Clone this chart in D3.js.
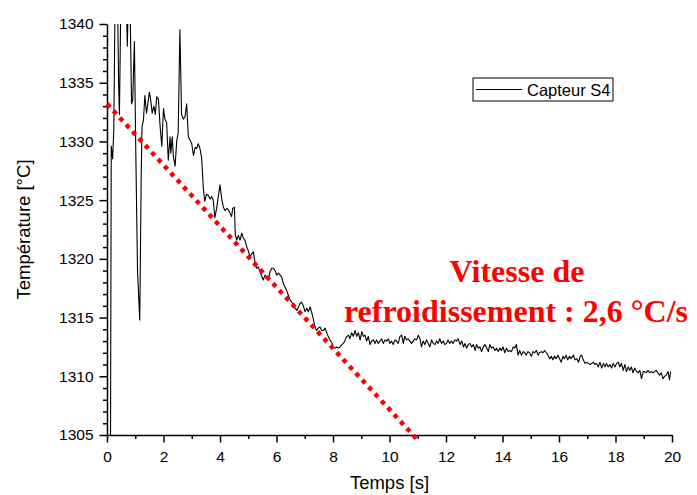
<!doctype html>
<html lang="fr">
<head>
<meta charset="utf-8">
<title>Capteur S4</title>
<script src="https://cdn.jsdelivr.net/npm/d3@7"></script>
<style>
	body { margin: 0; background: #fff; }
	svg { display: block; }
	.axis text { font-family: "Liberation Sans", Arial, sans-serif; font-size: 15.5px; fill: #000; }
	.axis path, .axis line { stroke: #000; stroke-width: 1.5px; }
</style>
</head>
<body>
<div id="chart"></div>
<script>
// temps [s]
var temps = [
	0.12, 0.15, 0.20, 0.24, 0.29, 0.36, 0.41, 0.44, 0.49, 0.56, 0.66, 0.72, 0.76, 0.82, 0.87, 0.91, 0.97,
	1.02, 1.08, 1.16, 1.21, 1.24, 1.29, 1.34, 1.40, 1.50, 1.55, 1.60, 1.66, 1.71, 1.76, 1.82, 1.88, 1.94,
	2.00, 2.05, 2.11, 2.17, 2.23, 2.26, 2.31, 2.35, 2.41, 2.47, 2.52, 2.58, 2.64, 2.70, 2.76, 2.82, 2.88, 2.94,
	3.00, 3.06, 3.12, 3.17, 3.23, 3.29, 3.35, 3.41, 3.46, 3.52, 3.59, 3.65, 3.71, 3.76, 3.82, 3.88, 3.94,
	4.00, 4.06, 4.12, 4.18, 4.24, 4.29, 4.35, 4.41, 4.45, 4.51, 4.54, 4.59, 4.65, 4.71, 4.77, 4.82, 4.88, 4.95,
	5.00, 5.06, 5.12, 5.18, 5.24, 5.30, 5.36, 5.42, 5.48, 5.53, 5.59, 5.65, 5.71, 5.77, 5.83, 5.89, 5.95,
	6.01, 6.07, 6.13, 6.18, 6.24, 6.30, 6.36, 6.42, 6.48, 6.54, 6.59, 6.66, 6.72, 6.78, 6.83, 6.89, 6.95,
	7.01, 7.07, 7.13, 7.19, 7.25, 7.30, 7.36, 7.42, 7.48, 7.54, 7.60, 7.66, 7.72, 7.78, 7.83, 7.89, 7.95,
	8.01, 8.07, 8.13, 8.19, 8.25, 8.31, 8.37, 8.43, 8.49, 8.55, 8.60, 8.66, 8.72, 8.78, 8.84, 8.90, 8.96,
	9.02, 9.07, 9.13, 9.19, 9.25, 9.31, 9.37, 9.43, 9.49, 9.54, 9.60, 9.66, 9.72, 9.78, 9.84, 9.90, 9.96,
	10.01, 10.07, 10.13, 10.19, 10.25, 10.31, 10.37, 10.43, 10.49, 10.54, 10.60, 10.66, 10.72, 10.78, 10.84, 10.90, 10.96,
	11.02, 11.08, 11.13, 11.19, 11.25, 11.31, 11.37, 11.43, 11.49, 11.55, 11.61, 11.66, 11.72, 11.78, 11.84, 11.90, 11.96,
	12.02, 12.07, 12.13, 12.19, 12.25, 12.31, 12.37, 12.43, 12.50, 12.56, 12.62, 12.67, 12.73, 12.79, 12.85, 12.91, 12.97,
	13.03, 13.08, 13.14, 13.20, 13.26, 13.32, 13.38, 13.44, 13.50, 13.55, 13.61, 13.67, 13.73, 13.79, 13.85, 13.91, 13.96,
	14.02, 14.08, 14.14, 14.20, 14.26, 14.32, 14.38, 14.43, 14.49, 14.55, 14.61, 14.67, 14.73, 14.79, 14.84, 14.90, 14.96,
	15.02, 15.08, 15.14, 15.20, 15.26, 15.31, 15.37, 15.43, 15.49, 15.55, 15.61, 15.67, 15.73, 15.78, 15.84, 15.90, 15.96,
	16.02, 16.08, 16.14, 16.19, 16.25, 16.31, 16.37, 16.43, 16.51, 16.57, 16.63, 16.69, 16.75, 16.80, 16.86, 16.92, 16.98,
	17.04, 17.10, 17.16, 17.22, 17.27, 17.33, 17.39, 17.45, 17.51, 17.57, 17.63, 17.68, 17.74, 17.80, 17.86, 17.92, 17.98,
	18.04, 18.10, 18.15, 18.21, 18.27, 18.33, 18.39, 18.45, 18.51, 18.56, 18.62, 18.68, 18.74, 18.80, 18.86, 18.92, 18.98,
	19.03, 19.09, 19.15, 19.21, 19.27, 19.33, 19.39, 19.44, 19.50, 19.56, 19.62, 19.68, 19.74, 19.80, 19.86, 19.91, 19.95
];

// Capteur S4, température [°C]
var capteurS4 = [
	1300.0, 1329.6, 1328.5, 1331.0, 1343.0, 1345.0, 1335.0, 1332.3, 1342.0, 1346.0, 1344.0, 1338.1, 1343.0, 1341.0, 1333.2, 1333.5, 1338.5,
	1329.0, 1319.0, 1314.8, 1327.0, 1331.3, 1331.8, 1333.9, 1332.4, 1334.2, 1333.5, 1332.4, 1333.0, 1332.3, 1333.8, 1333.6, 1331.3, 1329.6,
	1332.8, 1331.9, 1331.6, 1328.4, 1330.4, 1329.0, 1330.4, 1328.7, 1327.9, 1330.1, 1330.7, 1339.5, 1332.3, 1331.9, 1332.1, 1333.2, 1330.4, 1330.1,
	1329.8, 1328.8, 1329.5, 1329.4, 1329.8, 1329.4, 1328.6, 1326.0, 1324.9, 1325.5, 1325.4, 1325.1, 1325.3, 1325.0, 1323.5, 1324.3, 1325.3,
	1326.3, 1325.1, 1324.4, 1324.1, 1324.3, 1324.2, 1323.9, 1323.6, 1324.3, 1324.4, 1322.1, 1321.6, 1322.0, 1321.6, 1322.2, 1321.8, 1321.6, 1321.0,
	1320.7, 1320.2, 1320.4, 1320.6, 1319.7, 1319.2, 1319.3, 1318.9, 1318.5, 1318.2, 1318.6, 1318.5, 1318.2, 1318.9, 1319.2, 1319.2, 1319.0,
	1318.6, 1318.8, 1318.6, 1318.5, 1317.9, 1317.6, 1317.3, 1316.9, 1316.5, 1316.3, 1316.1, 1315.8, 1315.6, 1315.9, 1316.2, 1316.3, 1316.0,
	1315.5, 1315.8, 1315.5, 1315.9, 1315.4, 1314.9, 1314.2, 1313.9, 1314.1, 1314.2, 1313.9, 1313.9, 1314.1, 1313.7, 1313.4, 1313.1, 1312.9,
	1312.5, 1312.4, 1312.5, 1312.4, 1312.5, 1312.7, 1312.8, 1313.1, 1313.4, 1313.5, 1313.2, 1313.7, 1313.4, 1313.9, 1313.4, 1313.7, 1313.1,
	1313.8, 1313.4, 1313.5, 1313.0, 1313.4, 1312.7, 1313.0, 1313.1, 1312.8, 1313.1, 1312.8, 1313.0, 1313.2, 1312.8, 1313.1, 1313.0, 1313.2,
	1312.8, 1313.0, 1312.7, 1313.1, 1313.0, 1312.8, 1313.4, 1313.5, 1312.8, 1313.4, 1313.1, 1313.2, 1313.0, 1312.8, 1313.0, 1313.2, 1313.1,
	1313.5, 1313.2, 1312.5, 1313.0, 1312.7, 1313.1, 1312.8, 1312.5, 1313.1, 1312.8, 1312.7, 1313.0, 1312.8, 1313.2, 1312.8, 1313.0, 1312.7,
	1312.8, 1313.1, 1312.8, 1313.0, 1312.8, 1313.1, 1313.0, 1313.2, 1312.7, 1313.0, 1312.5, 1312.8, 1312.4, 1312.7, 1312.8, 1312.5, 1312.7,
	1312.2, 1312.7, 1312.4, 1312.5, 1312.1, 1312.5, 1312.7, 1312.4, 1312.1, 1312.7, 1312.4, 1312.5, 1312.2, 1312.4, 1312.1, 1312.4, 1312.2,
	1312.5, 1312.0, 1312.4, 1312.1, 1312.2, 1312.1, 1312.5, 1312.4, 1312.7, 1311.8, 1312.2, 1311.8, 1312.1, 1312.0, 1311.8, 1312.1, 1312.0,
	1311.7, 1312.1, 1312.0, 1312.2, 1311.8, 1312.0, 1312.1, 1312.0, 1312.2, 1312.0, 1311.8, 1311.5, 1311.7, 1311.4, 1311.7, 1311.5, 1311.8,
	1311.5, 1311.2, 1311.7, 1311.5, 1311.8, 1311.4, 1311.7, 1311.5, 1311.8, 1311.4, 1311.5, 1311.2, 1311.7, 1311.8, 1311.4, 1311.1, 1311.2,
	1311.1, 1311.0, 1311.1, 1311.2, 1311.0, 1311.1, 1310.8, 1311.2, 1310.7, 1311.1, 1310.8, 1311.1, 1310.8, 1311.0, 1310.7, 1311.1, 1310.8,
	1311.1, 1311.2, 1310.8, 1311.1, 1310.5, 1311.0, 1310.4, 1310.8, 1310.5, 1310.8, 1310.3, 1310.7, 1310.4, 1310.3, 1310.5, 1309.8, 1310.4,
	1310.4, 1310.3, 1310.5, 1310.3, 1310.4, 1310.3, 1310.4, 1310.5, 1310.3, 1310.1, 1310.3, 1309.8, 1310.0, 1310.1, 1310.4, 1309.7, 1310.4
];

// droite de refroidissement (pente -2,6 °C/s)
var penteTemps = [0, 10.95];
var penteValeurs = [1333.2, 1304.7];

var xTicks = [0, 2, 4, 6, 8, 10, 12, 14, 16, 18, 20];
var yTicks = [1305, 1310, 1315, 1320, 1325, 1330, 1335, 1340];

var legendLabel = "Capteur S4";
var annotation = ["Vitesse de", "refroidissement : 2,6 °C/s"];

var widthSvg = 697, heightSvg = 495;
var margin = { left: 107, right: 25, top: 24, bottom: 60 };
var width = widthSvg - margin.left - margin.right;
var height = heightSvg - margin.top - margin.bottom;

var svg = d3.select("#chart").append("svg")
	.attr("width", widthSvg)
	.attr("height", heightSvg);

var x = d3.scaleLinear().domain([0, 20]).range([0, width]);
var y = d3.scaleLinear().domain([1305, 1340]).range([height, 0]);

var g = svg.append("g")
	.attr("transform", "translate(" + margin.left + "," + margin.top + ")");

g.append("clipPath").attr("id", "clip")
	.append("rect").attr("width", width).attr("height", height);

// minor ticks
g.append("g")
	.attr("class", "axis")
	.attr("transform", "translate(0," + height + ")")
	.call(d3.axisBottom(x).tickValues(d3.range(1, 20, 2)).tickSize(4).tickFormat(""))
	.select(".domain").remove();
g.append("g")
	.attr("class", "axis")
	.call(d3.axisLeft(y).tickValues(d3.range(1306, 1340, 1).filter(function(d) { return d % 5 !== 0; })).tickSize(4).tickFormat(""))
	.select(".domain").remove();

g.append("g")
	.attr("class", "axis")
	.attr("transform", "translate(0," + height + ")")
	.call(d3.axisBottom(x).tickValues(xTicks).tickFormat(d3.format("d")).tickSize(7.5).tickSizeOuter(0).tickPadding(8));

g.append("g")
	.attr("class", "axis")
	.call(d3.axisLeft(y).tickValues(yTicks).tickFormat(d3.format("d")).tickSize(7.5).tickSizeOuter(0).tickPadding(6));

var line = d3.line()
	.x(function(d, i) { return x(temps[i]); })
	.y(function(d) { return y(d); });

g.append("path")
	.datum(capteurS4)
	.attr("clip-path", "url(#clip)")
	.attr("fill", "none")
	.attr("stroke", "#000")
	.attr("stroke-width", 1.1)
	.attr("stroke-linejoin", "round")
	.attr("d", line);

g.append("line")
	.attr("x1", x(penteTemps[0])).attr("y1", y(penteValeurs[0]))
	.attr("x2", x(penteTemps[1])).attr("y2", y(penteValeurs[1]))
	.attr("stroke", "#ff0000")
	.attr("stroke-width", 4.5)
	.attr("stroke-dasharray", "4.5 4.9");

// legend
var leg = svg.append("g").attr("transform", "translate(473,78)");
leg.append("rect")
	.attr("width", 140).attr("height", 23)
	.attr("fill", "#fff").attr("stroke", "#000").attr("stroke-width", 1);
leg.append("line")
	.attr("x1", 3).attr("x2", 49).attr("y1", 11.5).attr("y2", 11.5)
	.attr("stroke", "#000").attr("stroke-width", 1);
leg.append("text")
	.attr("x", 54).attr("y", 17.5)
	.style("font-family", "Liberation Sans, Arial, sans-serif")
	.style("font-size", "16.5px")
	.text(legendLabel);

// axis titles
svg.append("text")
	.attr("x", margin.left + width / 2).attr("y", 489)
	.attr("text-anchor", "middle")
	.style("font-family", "Liberation Sans, Arial, sans-serif")
	.style("font-size", "18.5px")
	.text("Temps [s]");
svg.append("text")
	.attr("transform", "translate(30," + (margin.top + height / 2) + ") rotate(-90)")
	.attr("text-anchor", "middle")
	.style("font-family", "Liberation Sans, Arial, sans-serif")
	.style("font-size", "18.5px")
	.text("Température [°C]");

// annotation
svg.append("text")
	.attr("x", 517).attr("y", 281.5)
	.attr("text-anchor", "middle")
	.style("font-family", "Liberation Serif, Times New Roman, serif")
	.style("font-weight", "bold")
	.style("font-size", "32px")
	.attr("fill", "#ff0000")
	.text(annotation[0]);
svg.append("text")
	.attr("x", 516).attr("y", 321.5)
	.attr("text-anchor", "middle")
	.style("font-family", "Liberation Serif, Times New Roman, serif")
	.style("font-weight", "bold")
	.style("font-size", "32px")
	.attr("fill", "#ff0000")
	.text(annotation[1]);
</script>
</body>
</html>
